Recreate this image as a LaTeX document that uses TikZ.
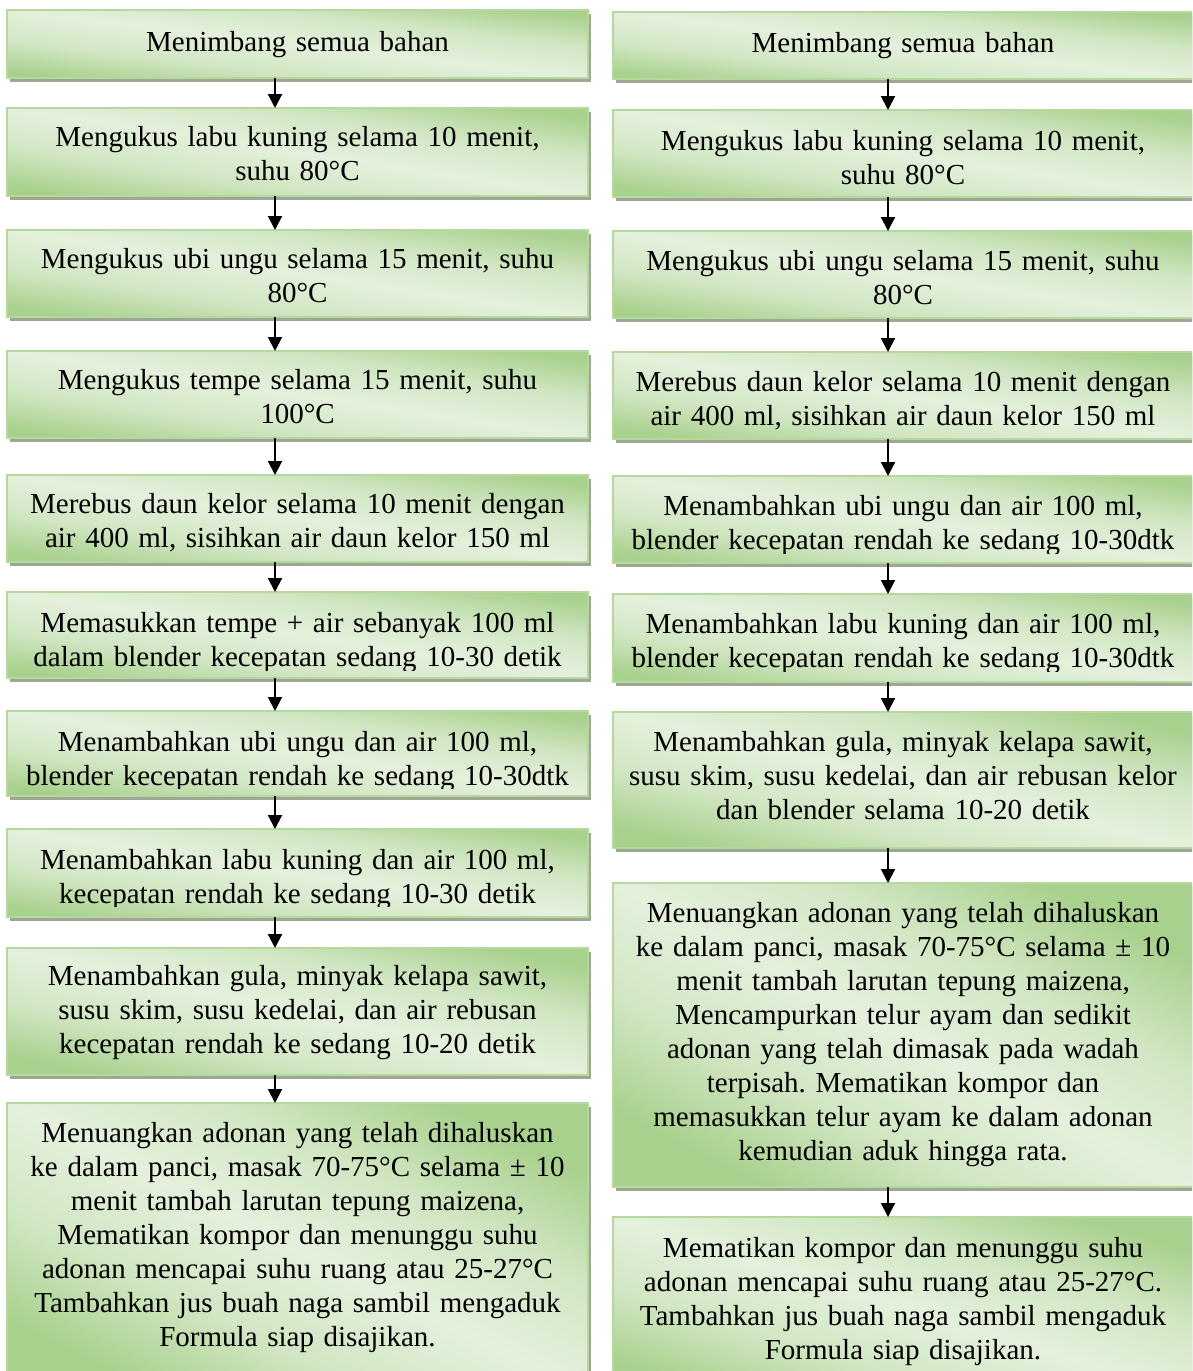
\documentclass[tikz,border=0pt]{standalone}
\usepackage{fontspec}
\setmainfont{Liberation Serif}
\usetikzlibrary{arrows.meta,shadows}
\definecolor{dk}{RGB}{169,209,142}
\definecolor{lt}{RGB}{228,240,220}
\colorlet{md}{lt!68!dk}
\definecolor{bdr}{RGB}{181,216,158}
\definecolor{shd}{RGB}{158,166,148}
\pgfdeclareverticalshading{wordgrad}{100bp}{color(0bp)=(dk); color(25bp)=(dk); color(37.5bp)=(md); color(50bp)=(lt); color(62.5bp)=(md); color(75bp)=(dk); color(100bp)=(dk)}
\tikzset{
  box/.style={draw=bdr, line width=1.5pt, shade, shading=wordgrad,
    inner sep=0pt, outer sep=0pt,
    general shadow={fill=shd, shadow xshift=3pt, shadow yshift=-4pt}},
  txt/.style={align=center, inner sep=0pt, text width=575pt, font=\fontsize{29}{34}\selectfont},
  arr/.style={line width=2pt, -{Triangle[length=14pt,width=14pt]}}
}
\frenchspacing
\newcommand{\flowbox}[8]{%
  \pgfmathsetmacro{\shang}{-atan(#5/#4)}%
  \node[box, shading angle=\shang, minimum width=#4pt, minimum height=#5pt, anchor=north west] (#1) at (#2,#3) {};
  \begin{scope}
    \clip (#2,#3) rectangle (#2+#4,#7);
    \node[txt, anchor=north] (#1t) at (#2+#4/2,#6) {\strut #8\strut};
  \end{scope}%
}
\begin{document}
\begin{tikzpicture}[x=1pt,y=-1pt]
\useasboundingbox (0,0) rectangle (1192,1371);
\clip (0,0) rectangle (1192,1371);
\fill[white] (0,0) rectangle (1192,1371);
% left column
\flowbox{L1}{7}{10}{581}{68}{27}{78}{Menimbang semua bahan}
\flowbox{L2}{7}{108}{581}{88}{122.5}{196}{Mengukus labu kuning selama 10 menit,\\ suhu 80°C}
\flowbox{L3}{7}{230}{581}{87}{244}{317}{Mengukus ubi ungu selama 15 menit, suhu\\ 80°C}
\flowbox{L4}{7}{351}{581}{87}{365}{438}{Mengukus tempe selama 15 menit, suhu\\ 100°C}
\flowbox{L5}{7}{475}{581}{87}{489.5}{562}{Merebus daun kelor selama 10 menit dengan\\ air 400 ml, sisihkan air daun kelor 150 ml}
\flowbox{L6}{7}{592}{581}{86}{608.2}{670}{Memasukkan tempe + air sebanyak 100 ml\\ dalam blender kecepatan sedang 10-30 detik}
\flowbox{L7}{7}{711}{581}{85}{727.2}{788}{Menambahkan ubi ungu dan air 100 ml,\\ blender kecepatan rendah ke sedang 10-30dtk}
\flowbox{L8}{7}{829}{581}{88}{845.2}{906}{Menambahkan labu kuning dan air 100 ml,\\ kecepatan rendah ke sedang 10-30 detik}
\flowbox{L9}{7}{948}{581}{127}{961}{1075}{Menambahkan gula, minyak kelapa sawit,\\ susu skim, susu kedelai, dan air rebusan\\ kecepatan rendah ke sedang 10-20 detik}
\flowbox{L10}{7}{1103}{581}{290}{1118.2}{1393}{Menuangkan adonan yang telah dihaluskan\\ ke dalam panci, masak 70-75°C selama ± 10\\ menit tambah larutan tepung maizena,\\ Mematikan kompor dan menunggu suhu\\ adonan mencapai suhu ruang atau 25-27°C\\ Tambahkan jus buah naga sambil mengaduk\\ Formula siap disajikan.}
% right column
\flowbox{R1}{613}{12}{580}{67}{28.5}{79}{Menimbang semua bahan}
\flowbox{R2}{613}{110}{580}{87}{126}{197}{Mengukus labu kuning selama 10 menit,\\ suhu 80°C}
\flowbox{R3}{613}{231}{580}{87}{246.5}{318}{Mengukus ubi ungu selama 15 menit, suhu\\ 80°C}
\flowbox{R4}{613}{352}{580}{87}{367.5}{439}{Merebus daun kelor selama 10 menit dengan\\ air 400 ml, sisihkan air daun kelor 150 ml}
\flowbox{R5}{613}{476}{580}{87}{491.5}{553}{Menambahkan ubi ungu dan air 100 ml,\\ blender kecepatan rendah ke sedang 10-30dtk}
\flowbox{R6}{613}{594}{580}{88}{609.5}{671}{Menambahkan labu kuning dan air 100 ml,\\ blender kecepatan rendah ke sedang 10-30dtk}
\flowbox{R7}{613}{712}{580}{136}{727}{848}{Menambahkan gula, minyak kelapa sawit,\\ susu skim, susu kedelai, dan air rebusan kelor\\ dan blender selama 10-20 detik}
\flowbox{R8}{613}{883}{580}{304}{898.5}{1187}{Menuangkan adonan yang telah dihaluskan\\ ke dalam panci, masak 70-75°C selama ± 10\\ menit tambah larutan tepung maizena,\\ Mencampurkan telur ayam dan sedikit\\ adonan yang telah dimasak pada wadah\\ terpisah. Mematikan kompor dan\\ memasukkan telur ayam ke dalam adonan\\ kemudian aduk hingga rata.}
\flowbox{R9}{613}{1217}{580}{180}{1233}{1397}{Mematikan kompor dan menunggu suhu\\ adonan mencapai suhu ruang atau 25-27°C.\\ Tambahkan jus buah naga sambil mengaduk\\ Formula siap disajikan.}
% arrows
\coordinate (axL) at (275,0);
\coordinate (axR) at (888,0);
\foreach \a/\b in {L1/L2,L2/L3,L3/L4,L4/L5,L5/L6,L6/L7,L7/L8,L8/L9,L9/L10}
  \draw[arr] (\a.south -| axL) -- (\b.north -| axL);
\foreach \a/\b in {R1/R2,R2/R3,R3/R4,R4/R5,R5/R6,R6/R7,R7/R8,R8/R9}
  \draw[arr] (\a.south -| axR) -- (\b.north -| axR);
\end{tikzpicture}
\end{document}
